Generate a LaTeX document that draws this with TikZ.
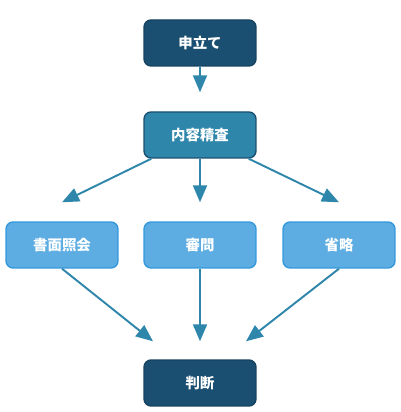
\documentclass[tikz,border=0pt]{standalone}
\usepackage{fontspec}
\usepackage{tikz}
\usetikzlibrary{calc,arrows.meta}
\newfontfamily\cjk{Noto Sans CJK JP}
\definecolor{navy}{HTML}{1B4F72}
\definecolor{navyline}{HTML}{154360}
\definecolor{steel}{HTML}{2E86AB}
\definecolor{sky}{HTML}{5DADE2}
\definecolor{skyline}{HTML}{3498DB}
\tikzset{
  box/.style={rounded corners=4, minimum width=2.24cm, minimum height=0.92cm,
    line width=0.8pt, text=white, font=\cjk\bfseries\fontsize{8.2}{10}\selectfont},
  top/.style={box, fill=navy, draw=navyline},
  mid/.style={box, fill=steel, draw=navy},
  low/.style={box, fill=sky, draw=skyline},
  flow/.style={draw=steel, line width=1.1pt,
    -{Triangle[length=0.34cm,width=0.28cm]}},
}
\begin{document}
\begin{tikzpicture}[x=0.02cm,y=0.02cm]
  \useasboundingbox (0,0) rectangle (400,412);
  \node[top] (apply) at (200,369) {申立て};
  \node[mid] (inspect) at (200,277) {内容精査};
  \node[low] (written) at (62,167) {書面照会};
  \node[low] (hearing) at (200,167) {審問};
  \node[low] (omit) at (339,167) {省略};
  \node[top] (judge) at (200,29) {判断};
  \draw[flow] (apply.south) -- ($(inspect.north)+(0,19)$);
  \draw[flow] ($(inspect.south west)+(8,0)$) -- ($(written.north)+(0,19)$);
  \draw[flow] (inspect.south) -- ($(hearing.north)+(0,19)$);
  \draw[flow] ($(inspect.south east)+(-8,0)$) -- ($(omit.north)+(0,19)$);
  \draw[flow] (written.south) -- ($(judge.north)+(-47,18)$);
  \draw[flow] (hearing.south) -- ($(judge.north)+(0,18)$);
  \draw[flow] (omit.south) -- ($(judge.north)+(46,18)$);
\end{tikzpicture}
\end{document}
